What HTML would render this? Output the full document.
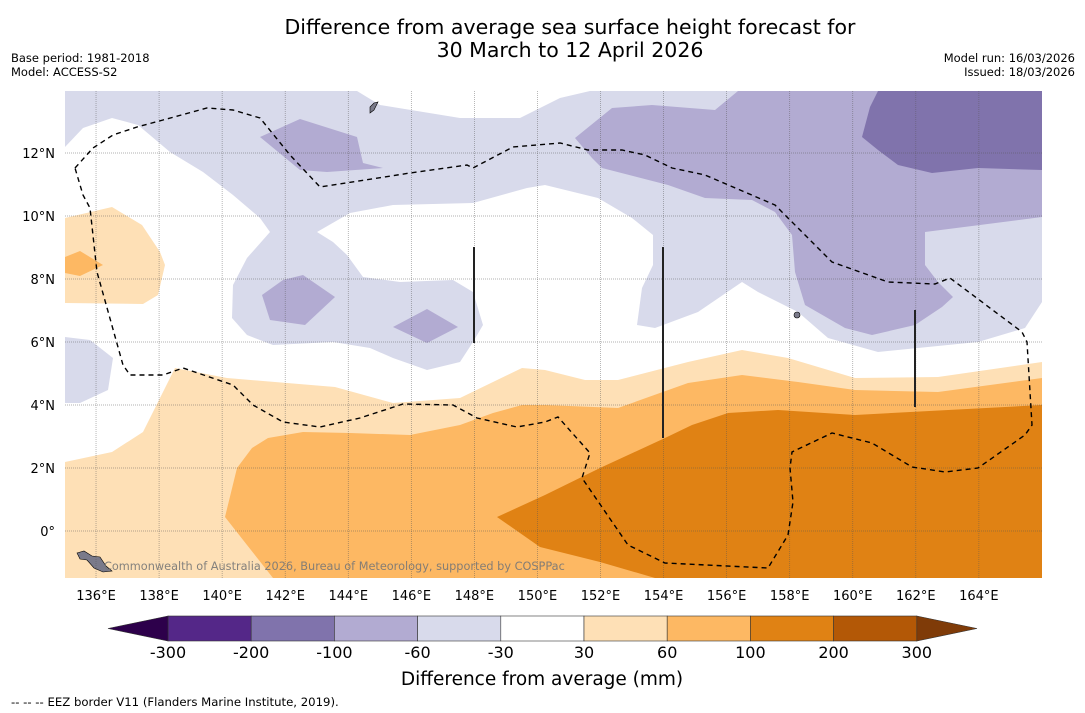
<!DOCTYPE html>
<html><head><meta charset="utf-8">
<style>
body{margin:0;background:#fff;width:1085px;height:713px;overflow:hidden;font-family:"DejaVu Sans","Liberation Sans",sans-serif;}
svg{position:absolute;left:0;top:0;font-family:"DejaVu Sans","Liberation Sans",sans-serif;}
</style></head>
<body>
<svg id="chart" width="1085" height="713" viewBox="0 0 1085 713">
  <text x="570" y="34" text-anchor="middle" font-size="20.5" fill="#000">Difference from average sea surface height forecast for</text>
  <text x="570" y="57" text-anchor="middle" font-size="20.5" fill="#000">30 March to 12 April 2026</text>
  <text x="11" y="62" font-size="11.5">Base period: 1981-2018</text>
  <text x="11" y="76" font-size="11.5">Model: ACCESS-S2</text>
  <text x="1075" y="62" font-size="11.5" text-anchor="end">Model run: 16/03/2026</text>
  <text x="1075" y="76" font-size="11.5" text-anchor="end">Issued: 18/03/2026</text>
  <defs><clipPath id="mapclip"><rect x="65" y="91" width="977" height="487"/></clipPath></defs>
  <g id="map" clip-path="url(#mapclip)"></g>
  <g id="axes"></g>
  <g id="cbar"></g>
  <text x="542" y="685" text-anchor="middle" font-size="18.5">Difference from average (mm)</text>
  <text x="11" y="706" font-size="11.7">--  --  -- EEZ border V11 (Flanders Marine Institute, 2019).</text>
</svg>
<script>
// axis data
const lonTicks = [136,138,140,142,144,146,148,150,152,154,156,158,160,162,164];
const latTicks = [0,2,4,6,8,10,12];
const levels = [-300,-200,-100,-60,-30,30,60,100,200,300];
const levelColors = ['#542788','#8073ac','#b2abd2','#d8daeb','#ffffff','#fee0b6','#fdb863','#e08214','#b35806'];
const underColor = '#2d004b';
const overColor = '#7f3b08';
// traced contour geometry (map pixel space)
const lightOrange = [[65,462],[112,452],[143,432],[160,398],[175,368],[227,378],[335,387],[393,403],[460,398],[493,382],[522,368],[545,370],[585,380],[618,380],[688,362],[742,350],[788,358],[855,378],[938,377],[1042,362],[1042,578],[65,578]];
const lightOrangeWest = [[65,218],[112,207],[142,225],[160,252],[165,265],[158,295],[143,304],[65,303]];
const orangeWest = [[65,257],[80,251],[103,265],[80,276],[65,273]];
const orange = [[225,517],[237,468],[252,448],[268,438],[303,432],[350,433],[410,435],[460,425],[493,413],[522,405],[545,405],[618,408],[688,383],[742,375],[798,382],[855,390],[938,392],[1042,378],[1042,578],[273,578],[247,545]];
const darkOrange = [[497,517],[545,495],[600,468],[665,438],[692,425],[728,413],[778,410],[855,415],[1042,405],[1042,578],[655,578],[600,562],[540,547]];
const lightPurple = [[65,91],[357,91],[380,105],[460,118],[520,118],[560,98],[590,91],[1042,91],[1042,302],[1025,328],[978,342],[878,352],[828,338],[798,312],[758,292],[742,282],[698,312],[655,328],[637,325],[642,288],[653,265],[653,235],[632,218],[598,198],[545,185],[527,188],[473,203],[393,205],[350,213],[317,232],[333,242],[347,255],[363,277],[400,282],[453,280],[473,292],[483,325],[473,342],[460,362],[427,370],[393,358],[370,348],[333,342],[273,345],[247,335],[232,318],[233,285],[247,258],[270,232],[260,218],[233,195],[203,172],[170,152],[138,125],[112,118],[83,128],[65,147]];
const lightPurpleWest = [[65,337],[90,340],[113,358],[108,390],[80,403],[65,403]];
const midPurpleA = [[260,137],[300,119],[357,137],[363,163],[383,168],[327,172],[300,170]];
const midPurpleB = [[262,295],[283,280],[303,275],[335,297],[305,325],[270,320]];
const midPurpleC = [[393,327],[427,309],[458,327],[427,343]];
const midPurpleEast = [[575,138],[612,108],[652,105],[715,110],[738,91],[1042,91],[1042,217],[925,232],[925,265],[938,282],[953,297],[942,307],[915,325],[872,335],[845,328],[805,305],[795,272],[792,235],[775,212],[752,200],[705,198],[668,185],[602,168],[592,158]];
const darkPurple = [[862,137],[870,107],[878,91],[1042,91],[1042,170],[978,168],[932,173],[898,165],[878,150]];
const eezBorder = [[75,168],[93,148],[113,135],[137,127],[163,120],[207,108],[233,110],[260,118],[290,155],[320,187],[410,173],[467,165],[473,168],[513,147],[560,143],[588,150],[622,150],[645,155],[672,168],[705,175],[775,205],[832,262],[888,282],[935,284],[950,278],[1022,332],[1027,342],[1032,425],[1025,435],[978,468],[945,472],[912,467],[872,443],[832,433],[792,452],[790,468],[793,502],[788,535],[768,568],[665,563],[628,545],[582,478],[590,453],[558,417],[545,422],[517,427],[477,418],[453,405],[403,404],[360,418],[320,427],[283,422],[253,405],[233,385],[183,368],[163,375],[130,375],[123,365],[97,272],[90,208],[83,195],[75,168]];
const boundaryLines = [[474,247,474,343],[663,247,663,438],[915,310,915,407]];

const NS='http://www.w3.org/2000/svg';
const X = lon => 64.5 + (lon-135)*31.53;
const Y = lat => 531 - lat*31.5;
function mk(tag, attrs, parent){const e=document.createElementNS(NS,tag);for(const k in attrs)e.setAttribute(k,attrs[k]);parent.appendChild(e);return e;}
const map=document.getElementById('map'), axes=document.getElementById('axes'), cbar=document.getElementById('cbar');
mk('rect',{x:65,y:91,width:977,height:487,fill:'#ffffff'},map);
function poly(pts, fill, name){
  const p = mk('polygon',{points:pts.map(q=>q.join(',')).join(' '),fill:fill},map);
  
  
}
poly(lightOrange,levelColors[5],'contour-30-60');
poly(lightOrangeWest,levelColors[5],'contour-30-60-west');
poly(orangeWest,levelColors[6],'contour-60-100-west');
poly(orange,levelColors[6],'contour-60-100');
poly(darkOrange,levelColors[7],'contour-100-200');
poly(lightPurple,levelColors[3],'contour-neg30-neg60');
poly(lightPurpleWest,levelColors[3],'contour-neg30-neg60-west');
poly(midPurpleA,levelColors[2],'contour-neg60-neg100-a');
poly(midPurpleB,levelColors[2],'contour-neg60-neg100-b');
poly(midPurpleC,levelColors[2],'contour-neg60-neg100-c');
poly(midPurpleEast,levelColors[2],'contour-neg60-neg100-east');
poly(darkPurple,levelColors[1],'contour-neg100-neg200');
// islands
const isl=mk('polygon',{points:'77,553 84,551 92,556 100,557 106,566 112,571 103,572 94,568 87,560 80,559',fill:'#7a7a8a',stroke:'#000','stroke-width':0.6},map);


const isl2=mk('circle',{cx:797,cy:315,r:3,fill:'#7a7a8a',stroke:'#000','stroke-width':0.6},map);


const isl3=mk('polygon',{points:'370,107 374,103 378,102 374,110 370,113',fill:'#7a7a8a',stroke:'#000','stroke-width':0.6},map);


// gridlines
lonTicks.forEach(l=>{
  const g=mk('line',{x1:X(l),x2:X(l),y1:91,y2:578,stroke:'#555','stroke-width':0.7,'stroke-dasharray':'1,1','opacity':0.6},map);
  
  
  const t=mk('text',{x:X(l),y:600,'text-anchor':'middle','font-size':13},axes);
  t.textContent=l+'°E';
  
  
});
latTicks.forEach(l=>{
  const g=mk('line',{x1:65,x2:1042,y1:Y(l),y2:Y(l),stroke:'#555','stroke-width':0.7,'stroke-dasharray':'1,1','opacity':0.6},map);
  
  
  const t=mk('text',{x:55,y:Y(l)+5,'text-anchor':'end','font-size':13},axes);
  t.textContent= l===0 ? '0°' : l+'°N';
  
  
});
// EEZ
const eez=mk('polyline',{points:eezBorder.map(q=>q.join(',')).join(' '),fill:'none',stroke:'#000','stroke-width':1.4,'stroke-dasharray':'5,4'},map);


boundaryLines.forEach(b=>{
  const ln=mk('line',{x1:b[0],y1:b[1],x2:b[2],y2:b[3],stroke:'#222','stroke-width':2},map);
  
  
});
const cr=mk('text',{x:104,y:570,'font-size':11.3,fill:'#777','fill-opacity':0.9},map);
cr.textContent='Commonwealth of Australia 2026, Bureau of Meteorology, supported by COSPPac';


// colorbar
const cb0=168, cbStep=83.2, cbY=616, cbH=25;
const CX = i => cb0 + i*cbStep;
levelColors.forEach((c,i)=>{
  const r=mk('rect',{x:CX(i),y:cbY,width:cbStep,height:cbH,fill:c,stroke:'#333','stroke-width':0.6},cbar);
  
  
});
const tl=mk('polygon',{points:`${CX(0)},${cbY} 108,${cbY+cbH/2} ${CX(0)},${cbY+cbH}`,fill:underColor,stroke:'#333','stroke-width':0.6},cbar);


const n=levels.length-1;
const tr=mk('polygon',{points:`${CX(n)},${cbY} 977,${cbY+cbH/2} ${CX(n)},${cbY+cbH}`,fill:overColor,stroke:'#333','stroke-width':0.6},cbar);


levels.forEach((v,i)=>{
  const t=mk('text',{x:CX(i),y:658,'text-anchor':'middle','font-size':16},cbar);
  t.textContent=v;
  
  
});
</script>
</body></html>
